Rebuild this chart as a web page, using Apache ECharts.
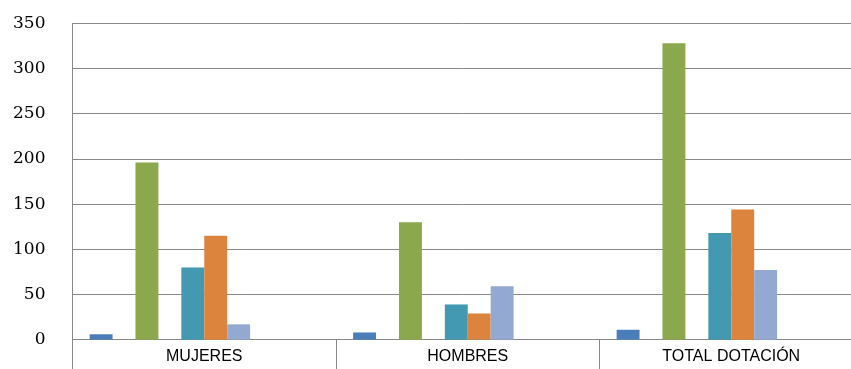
<!DOCTYPE html>
<html>
<head>
<meta charset="utf-8">
<script src="https://cdn.jsdelivr.net/npm/echarts@6/dist/echarts.min.js"></script>
<style>
  html, body { margin: 0; padding: 0; background: #ffffff; }
  #chart { width: 851px; height: 369px; }
</style>
</head>
<body>
<div id="chart"></div>
<script>
// Categories on the x axis
const categories = ['MUJERES', 'HOMBRES', 'TOTAL DOTACIÓN'];

// One array per series (ten series; several are empty)
const serie1 = [6, 8, 11];
const serie2 = [0, 0, 0];
const serie3 = [196, 130, 328];
const serie4 = [0, 0, 0];
const serie5 = [80, 39, 118];
const serie6 = [115, 29, 144];
const serie7 = [17, 59, 77];
const serie8 = [0, 0, 0];
const serie9 = [0, 0, 0];
const serie10 = [0, 0, 0];

const seriesData = [serie1, serie2, serie3, serie4, serie5, serie6, serie7, serie8, serie9, serie10];
const seriesColors = ['#4A7EBB', '#BE4B48', '#8BA84C', '#7D60A0', '#4399B2', '#DC843E', '#94A9D2', '#2C4D75', '#772C2A', '#5F7530'];

// Value axis ticks
const yMin = 0;
const yMax = 350;
const yStep = 50;

const chart = echarts.init(document.getElementById('chart'));

chart.setOption({
  animation: false,
  backgroundColor: '#ffffff',
  // The plot area runs past the right edge of the canvas
  grid: { left: 72.5, top: 23.3, width: 790.5, height: 316.4, containLabel: false, outerBoundsMode: 'none' },
  xAxis: {
    type: 'category',
    data: categories,
    axisLine: { show: true, lineStyle: { color: '#888888', width: 1 } },
    axisTick: { show: true, alignWithLabel: false, length: 32, lineStyle: { color: '#888888', width: 1 } },
    axisLabel: {
      margin: 9,
      color: '#000000',
      fontFamily: '"Liberation Sans", Arial, sans-serif',
      fontSize: 16
    },
    splitLine: { show: false }
  },
  yAxis: {
    type: 'value',
    min: yMin,
    max: yMax,
    interval: yStep,
    axisLine: { show: true, lineStyle: { color: '#888888', width: 1 } },
    axisTick: { show: false },
    axisLabel: {
      margin: 27,
      color: '#000000',
      fontFamily: '"DejaVu Serif", serif',
      fontSize: 17
    },
    splitLine: { show: true, lineStyle: { color: '#888888', width: 1 } }
  },
  series: seriesData.map((d, i) => ({
    name: 'Serie ' + (i + 1),
    type: 'bar',
    data: d,
    barGap: '0%',
    barCategoryGap: '13%',
    itemStyle: { color: seriesColors[i] }
  }))
});
</script>
</body>
</html>
